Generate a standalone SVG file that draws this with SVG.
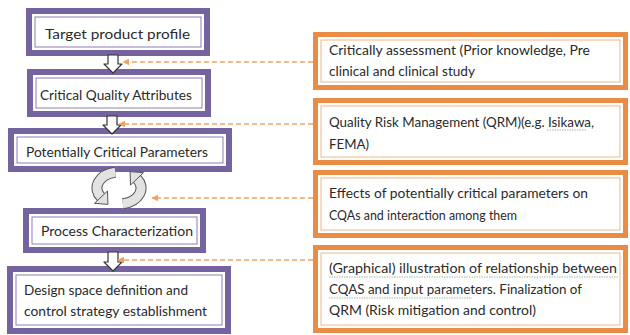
<svg xmlns="http://www.w3.org/2000/svg" width="630" height="335" viewBox="0 0 630 335">
<defs>
<style>
.lb{fill:#ffffff;stroke:#7563a0;stroke-width:6}
.li{fill:none;stroke:#8c7db4;stroke-width:1}
.rb{fill:#ffffff;stroke:#e98c45;stroke-width:5}
.ri{fill:none;stroke:#f2b587;stroke-width:1}
.lt{font-family:Lato,"Liberation Sans",Arial,sans-serif;font-size:14px;fill:#2a2a2a}
.rt{font-family:Lato,"Liberation Sans",Arial,sans-serif;font-size:14px;fill:#2a2a2a}
.dash{fill:none;stroke:#f0a264;stroke-width:1.5;stroke-dasharray:5 3}
.blk{fill:#ffffff;stroke:#333;stroke-width:1.2;stroke-linejoin:round}
.sq{fill:none;stroke:#8aa88a;stroke-width:0.8;stroke-dasharray:1.5 1}
.cyo{fill:none;stroke:#555;stroke-width:11}
.cyi{fill:none;stroke:#e2e2e2;stroke-width:9}
.cyh{fill:#e2e2e2;stroke:#555;stroke-width:1}
</style>
<marker id="ah" viewBox="0 0 10 10" refX="9" refY="5" markerWidth="7" markerHeight="7" orient="auto-start-reverse" markerUnits="userSpaceOnUse">
<path d="M0,0 L10,5 L0,10 z" fill="#f0a264"/>
</marker>
</defs>

<g id="n1">
<rect class="lb" x="29" y="11" width="178" height="42"/>
<rect class="li" x="35" y="17" width="166" height="30"/>
<text class="lt" x="45" y="38.5" font-size="15.5" textLength="145" lengthAdjust="spacingAndGlyphs">Target product profile</text>
</g>
<g id="n2">
<rect class="lb" x="30" y="72" width="178" height="42"/>
<rect class="li" x="36" y="78" width="166" height="30"/>
<text class="lt" x="40" y="99.5" textLength="152" lengthAdjust="spacingAndGlyphs">Critical Quality Attributes</text>
</g>
<g id="n3">
<rect class="lb" x="11" y="131" width="218" height="38"/>
<rect class="li" x="17" y="137" width="206" height="26"/>
<text class="lt" x="26" y="157" textLength="182" lengthAdjust="spacingAndGlyphs">Potentially Critical Parameters</text>
</g>
<g id="n4">
<rect class="lb" x="26" y="211" width="177" height="39"/>
<rect class="li" x="32" y="217" width="165" height="27"/>
<text class="lt" x="41" y="236" textLength="152" lengthAdjust="spacingAndGlyphs">Process  Characterization</text>
</g>
<g id="n5">
<rect class="lb" x="10" y="269" width="218" height="62"/>
<rect class="li" x="16" y="275" width="206" height="50"/>
<text class="lt" x="24" y="295" textLength="164" lengthAdjust="spacingAndGlyphs">Design space definition and</text>
<text class="lt" x="24" y="316" textLength="183" lengthAdjust="spacingAndGlyphs">control strategy establishment</text>
</g>

<g id="r1">
<rect class="rb" x="315.5" y="34.5" width="310" height="53"/>
<rect class="ri" x="321" y="40" width="299" height="42"/>
<text class="rt" x="329" y="55" textLength="261" lengthAdjust="spacingAndGlyphs">Critically assessment  (Prior knowledge, Pre</text>
<text class="rt" x="329" y="76" textLength="146" lengthAdjust="spacingAndGlyphs">clinical and clinical study</text>
</g>
<g id="r2">
<rect class="rb" x="315.5" y="100.5" width="310" height="62"/>
<rect class="ri" x="321" y="106" width="299" height="51"/>
<text class="rt" x="329" y="127" textLength="265" lengthAdjust="spacingAndGlyphs">Quality Risk Management  (QRM)(e.g. Isikawa,</text>
<text class="rt" x="329" y="149" textLength="40" lengthAdjust="spacingAndGlyphs">FEMA)</text>
<path class="sq" d="M547,130 L587,130"/>
</g>
<g id="r3">
<rect class="rb" x="315.5" y="172.5" width="310" height="63"/>
<rect class="ri" x="321" y="178" width="299" height="52"/>
<text class="rt" x="329" y="198" textLength="259" lengthAdjust="spacingAndGlyphs">Effects of potentially critical parameters on</text>
<text class="rt" x="329" y="220" textLength="188" lengthAdjust="spacingAndGlyphs">CQAs and interaction among them</text>
</g>
<g id="r4">
<rect class="rb" x="315.5" y="247.5" width="310" height="83"/>
<rect class="ri" x="321" y="253" width="299" height="72"/>
<text class="rt" x="329" y="273" textLength="288" lengthAdjust="spacingAndGlyphs">(Graphical) illustration of relationship between</text>
<text class="rt" x="329" y="294" textLength="253" lengthAdjust="spacingAndGlyphs">CQAS and input parameters. Finalization of</text>
<text class="rt" x="329" y="315" textLength="207" lengthAdjust="spacingAndGlyphs">QRM (Risk mitigation  and control)</text>
<path class="sq" d="M329,277 L618,277"/>
<path class="sq" d="M329,298 L472,298"/>
</g>

<g id="connectors">
<path class="blk" d="M108,55 L118,55 L118,64 L122,64 L113,73 L104,64 L108,64 Z"/>
<path class="blk" d="M107,116 L117,116 L117,125 L121,125 L112,134 L103,125 L107,125 Z"/>
<path class="blk" d="M108,252 L118,252 L118,262 L122,262 L113,271 L104,262 L108,262 Z"/>
<path class="dash" d="M313,62 L123,62" marker-end="url(#ah)"/>
<path class="dash" d="M313,124 L119,124" marker-end="url(#ah)"/>
<path class="dash" d="M313,198 L152,198" marker-end="url(#ah)"/>
<path class="dash" d="M313,260 L118,260" marker-end="url(#ah)"/>
<g id="cycle">
<path class="cyo" d="M115.2,172.2 A22,16 0 0 0 101,197.2"/>
<path class="cyo" d="M122.8,203.8 A22,16 0 0 0 137,178.8"/>
<path class="cyi" d="M115.2,172.2 A22,16 0 0 0 101,197.2"/>
<path class="cyi" d="M122.8,203.8 A22,16 0 0 0 137,178.8"/>
<polygon class="cyh" points="94.5,203.3 107.5,191 107.9,204.4"/>
<polygon class="cyh" points="143.5,172.7 130.5,185 130.1,171.6"/>
</g>
</g>
</svg>
